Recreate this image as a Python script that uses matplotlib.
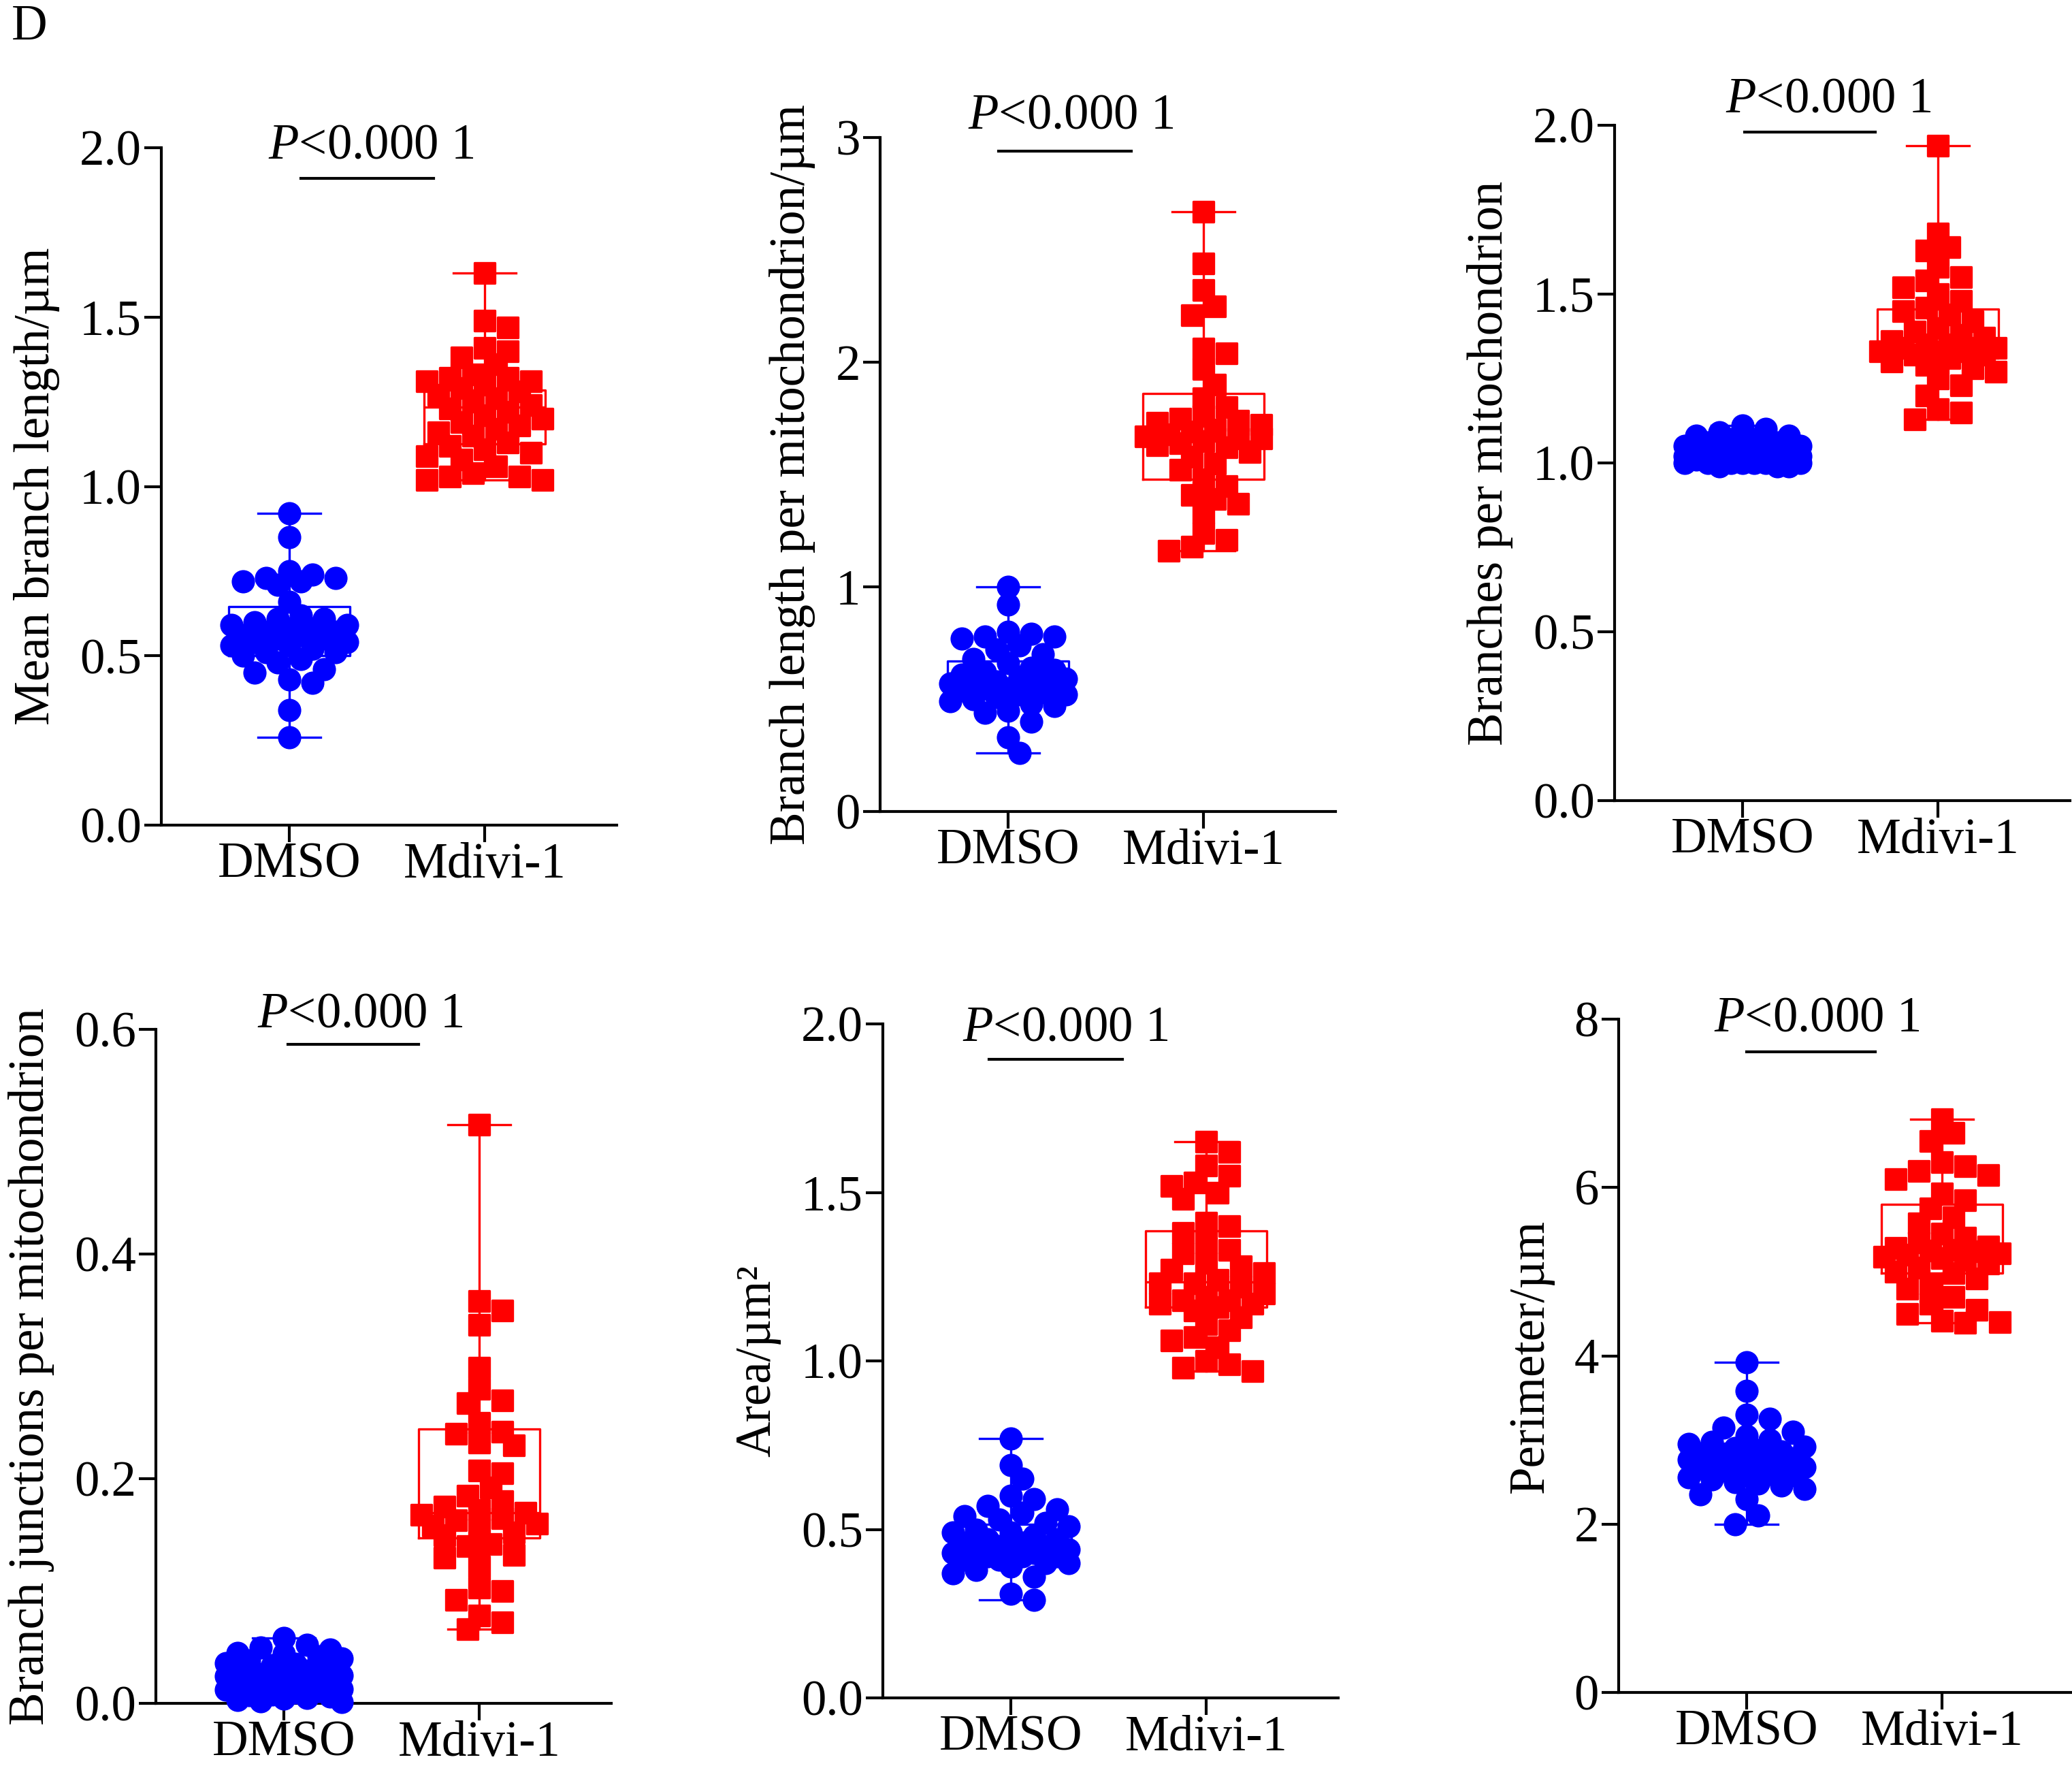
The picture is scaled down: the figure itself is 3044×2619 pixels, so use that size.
import matplotlib
matplotlib.use('Agg')
import matplotlib.pyplot as plt
from matplotlib.markers import MarkerStyle
from matplotlib import transforms
import numpy as np

plt.rcParams['font.family'] = ['Liberation Serif', 'DejaVu Serif']
plt.rcParams['mathtext.fontset'] = 'custom'
plt.rcParams['mathtext.rm'] = 'Liberation Serif'
plt.rcParams['mathtext.it'] = 'Liberation Serif:italic'

groups = ['DMSO', 'Mdivi-1']

# mean branch length
mbl_dmso = [0.92, 0.85, 0.75, 0.74, 0.73, 0.73, 0.72, 0.72, 0.71, 0.66, 0.62, 0.61, 0.61, 0.60,
            0.59, 0.59, 0.58, 0.58, 0.57, 0.57, 0.56, 0.56, 0.55, 0.55, 0.54, 0.54, 0.53, 0.53,
            0.52, 0.51, 0.51, 0.50, 0.49, 0.48, 0.46, 0.45, 0.43, 0.42, 0.34, 0.26]
mbl_mdivi = [1.63, 1.49, 1.47, 1.41, 1.40, 1.38, 1.36, 1.33, 1.32, 1.32, 1.31, 1.31, 1.30, 1.29,
             1.28, 1.27, 1.26, 1.25, 1.24, 1.23, 1.22, 1.21, 1.20, 1.19, 1.18, 1.17, 1.16, 1.15,
             1.13, 1.12, 1.11, 1.10, 1.09, 1.08, 1.06, 1.04, 1.03, 1.03, 1.02, 1.02]
mbl_box = [[0.50, 0.555, 0.645], [1.125, 1.235, 1.285]]   # q1, median, q3

# branch length per mitochondrion
blm_dmso = [1.00, 0.92, 0.80, 0.79, 0.78, 0.78, 0.77, 0.74, 0.72, 0.70, 0.68, 0.66, 0.64, 0.63,
            0.62, 0.61, 0.60, 0.60, 0.59, 0.58, 0.58, 0.57, 0.56, 0.56, 0.55, 0.55, 0.54, 0.53,
            0.52, 0.52, 0.51, 0.50, 0.49, 0.48, 0.47, 0.45, 0.44, 0.40, 0.33, 0.26]
blm_mdivi = [2.67, 2.44, 2.32, 2.25, 2.21, 2.06, 2.04, 1.97, 1.90, 1.84, 1.80, 1.76, 1.75, 1.74,
             1.73, 1.72, 1.70, 1.69, 1.68, 1.67, 1.66, 1.66, 1.65, 1.64, 1.63, 1.62, 1.60, 1.58,
             1.55, 1.52, 1.48, 1.45, 1.41, 1.39, 1.37, 1.33, 1.24, 1.21, 1.18, 1.16]
blm_box = [[0.51, 0.57, 0.67], [1.48, 1.65, 1.86]]

# branches per mitochondrion
bpm_dmso = [1.11, 1.10, 1.09, 1.08, 1.08, 1.07, 1.07, 1.06, 1.06, 1.05, 1.05, 1.05, 1.04, 1.04,
            1.04, 1.03, 1.03, 1.03, 1.03, 1.02, 1.02, 1.02, 1.02, 1.02, 1.01, 1.01, 1.01, 1.01,
            1.01, 1.00, 1.00, 1.00, 1.00, 1.00, 1.00, 0.99, 0.99, 0.99, 1.00, 1.01]
bpm_mdivi = [1.94, 1.68, 1.64, 1.63, 1.58, 1.55, 1.54, 1.52, 1.50, 1.48, 1.46, 1.45, 1.44, 1.42,
             1.40, 1.39, 1.38, 1.37, 1.36, 1.35, 1.35, 1.34, 1.34, 1.34, 1.33, 1.33, 1.33, 1.32,
             1.32, 1.31, 1.30, 1.29, 1.28, 1.27, 1.25, 1.23, 1.20, 1.16, 1.15, 1.13]
bpm_box = [[1.01, 1.025, 1.04], [1.31, 1.35, 1.455]]

# branch junctions per mitochondrion
bjm_dmso = [0.058, 0.052, 0.050, 0.048, 0.045, 0.044, 0.042, 0.040, 0.038, 0.036, 0.035, 0.034,
            0.032, 0.030, 0.029, 0.028, 0.026, 0.025, 0.024, 0.022, 0.021, 0.020, 0.019, 0.018,
            0.017, 0.016, 0.015, 0.014, 0.013, 0.012, 0.011, 0.010, 0.008, 0.007, 0.006, 0.005,
            0.004, 0.003, 0.002, 0.001]
bjm_mdivi = [0.515, 0.358, 0.350, 0.337, 0.299, 0.280, 0.270, 0.267, 0.250, 0.242, 0.240, 0.232,
             0.230, 0.207, 0.205, 0.192, 0.185, 0.180, 0.175, 0.172, 0.170, 0.168, 0.165, 0.163,
             0.160, 0.158, 0.155, 0.152, 0.150, 0.142, 0.140, 0.132, 0.130, 0.122, 0.103, 0.100,
             0.092, 0.078, 0.072, 0.066]
bjm_box = [[0.010, 0.020, 0.030], [0.147, 0.170, 0.244]]

# area
area_dmso = [0.77, 0.69, 0.65, 0.60, 0.59, 0.57, 0.56, 0.55, 0.54, 0.53, 0.52, 0.51, 0.50, 0.49,
             0.49, 0.48, 0.47, 0.47, 0.46, 0.46, 0.45, 0.45, 0.44, 0.44, 0.43, 0.43, 0.43, 0.42,
             0.42, 0.42, 0.41, 0.41, 0.40, 0.40, 0.39, 0.38, 0.37, 0.36, 0.31, 0.29]
area_mdivi = [1.65, 1.62, 1.58, 1.55, 1.53, 1.52, 1.50, 1.48, 1.41, 1.40, 1.38, 1.35, 1.33, 1.32,
              1.29, 1.28, 1.27, 1.26, 1.24, 1.23, 1.23, 1.22, 1.20, 1.19, 1.18, 1.18, 1.17, 1.17,
              1.16, 1.15, 1.13, 1.11, 1.09, 1.07, 1.06, 1.04, 1.00, 0.99, 0.98, 0.97]
area_box = [[0.42, 0.465, 0.515], [1.16, 1.235, 1.385]]

# perimeter
per_dmso = [3.92, 3.58, 3.30, 3.25, 3.15, 3.10, 3.05, 3.00, 2.98, 2.95, 2.92, 2.90, 2.88, 2.86,
            2.84, 2.82, 2.80, 2.79, 2.78, 2.77, 2.75, 2.74, 2.72, 2.70, 2.68, 2.66, 2.64, 2.62,
            2.60, 2.58, 2.56, 2.53, 2.50, 2.48, 2.46, 2.42, 2.35, 2.30, 2.10, 2.00]
per_mdivi = [6.81, 6.65, 6.55, 6.30, 6.25, 6.20, 6.15, 6.10, 5.93, 5.85, 5.75, 5.65, 5.57, 5.45,
             5.40, 5.35, 5.30, 5.28, 5.26, 5.25, 5.24, 5.22, 5.20, 5.18, 5.16, 5.14, 5.10, 5.05,
             5.00, 4.98, 4.92, 4.85, 4.80, 4.70, 4.62, 4.55, 4.50, 4.42, 4.40, 4.39]
per_box = [[2.62, 2.78, 2.96], [4.98, 5.25, 5.80]]

ylabels = ['Mean branch length/µm', 'Branch length per mitochondrion/µm',
           'Branches per mitochondrion', 'Branch junctions per mitochondrion',
           'Area/µm²', 'Perimeter/µm']
yticks = [[0.0, 0.5, 1.0, 1.5, 2.0], [0, 1, 2, 3], [0.0, 0.5, 1.0, 1.5, 2.0],
          [0.0, 0.2, 0.4, 0.6], [0.0, 0.5, 1.0, 1.5, 2.0], [0, 2, 4, 6, 8]]
ytick_fmt = ['%.1f', '%d', '%.1f', '%.1f', '%.1f', '%d']
p_text = r'$\it{P}$<0.000 1'

data = [(mbl_dmso, mbl_mdivi, mbl_box), (blm_dmso, blm_mdivi, blm_box),
        (bpm_dmso, bpm_mdivi, bpm_box), (bjm_dmso, bjm_mdivi, bjm_box),
        (area_dmso, area_mdivi, area_box), (per_dmso, per_mdivi, per_box)]

W, H = 3044, 2619
# axes rectangles in pixels: left, top, bottom (width is shared)
ax_px = [(237, 217, 1212), (1293, 202, 1192), (2372, 184, 1176),
         (229, 1512, 2502), (1297, 1504, 2494), (2378, 1497, 2486)]
ax_w = 669
# significance bar: x0, x1 (data), y (axes frac); text x (data), baseline (axes frac)
sig = [(1.06, 1.74, 0.955, 1.42, 0.984), (0.95, 1.63, 0.98, 1.32, 1.014),
       (1.01, 1.68, 0.99, 1.44, 1.02), (1.02, 1.69, 0.978, 1.39, 1.004),
       (0.89, 1.57, 0.947, 1.28, 0.975), (1.00, 1.66, 0.951, 1.36, 0.982)]

colors = ['#0000ff', '#ff0000']
markers = ['o', 's']
XMIN, XMAX = 0.345, 2.676
MS = 8.2
FS = 17.5


def swarm(vals, px_per_y, px_per_x, d):
    # simple beeswarm: offsets in data x units
    ys = np.asarray(vals) * px_per_y
    order = np.argsort(-ys)
    step = d * 0.5
    cand = [0]
    for k in range(1, 6):
        cand += [k * step, -k * step]
    xs = np.zeros(len(ys))
    placed = []
    for i in order:
        best, best_d = 0.0, -1
        for c in cand:
            if placed:
                pts = np.array(placed)
                md = np.min(np.hypot(pts[:, 0] - c, pts[:, 1] - ys[i]))
            else:
                md = 1e9
            if md >= 0.75 * d:
                best = c
                break
            if md > best_d:
                best, best_d = c, md
        xs[i] = best
        placed.append((best, ys[i]))
    return xs / px_per_x


fig = plt.figure(figsize=(W / 300, H / 300), dpi=300)

for k in range(6):
    left, top, bottom = ax_px[k]
    ax = fig.add_axes([left / W, 1 - bottom / H, ax_w / W, (bottom - top) / H])
    dmso, mdivi, box = data[k]
    ymax = yticks[k][-1]
    ax.set_xlim(XMIN, XMAX)
    ax.set_ylim(0, ymax)
    px_x = ax_w / (XMAX - XMIN)
    px_y = (bottom - top) / ymax

    for g, vals in enumerate([dmso, mdivi]):
        pos = g + 1
        q1, med, q3 = box[g]
        st = [dict(med=med, q1=q1, q3=q3, whislo=min(vals), whishi=max(vals), fliers=[])]
        lp = dict(color=colors[g], linewidth=0.8)
        ax.bxp(st, positions=[pos], widths=0.62, showfliers=False,
               boxprops=lp, medianprops=lp, whiskerprops=lp,
               capprops=dict(color=colors[g], linewidth=0.8), capwidths=0.32,
               manage_ticks=False, zorder=2)
        off = swarm(vals, px_y, px_x, 34)
        ax.plot(pos + off, vals, linestyle='none',
                marker=MarkerStyle(markers[g], joinstyle='round'),
                markersize=MS if g == 0 else 7.3, markeredgewidth=0.8 if g == 1 else 0,
                color=colors[g], clip_on=False, zorder=3)

    ax.spines['top'].set_visible(False)
    ax.spines['right'].set_visible(False)
    ax.spines['left'].set_linewidth(1.0)
    ax.spines['bottom'].set_linewidth(1.0)
    ax.set_xticks([1, 2])
    ax.set_xticklabels(groups, fontsize=FS)
    ax.set_yticks(yticks[k])
    ax.set_yticklabels([ytick_fmt[k] % t for t in yticks[k]], fontsize=FS)
    ax.tick_params(axis='both', direction='out', length=6, width=1.0, pad=1)
    ax.tick_params(axis='x', pad=0)
    ax.set_ylabel(ylabels[k], fontsize=FS, labelpad=7)

    x0, x1, yb, xt, yt = sig[k]
    tr = transforms.blended_transform_factory(ax.transData, ax.transAxes)
    ax.plot([x0, x1], [yb, yb], color='black', linewidth=1.0, transform=tr, clip_on=False)
    ax.text(xt, yt, p_text, transform=tr, ha='center', va='baseline', fontsize=FS)

fig.text(43 / W, 1 - 40 / H, 'D', fontsize=FS, ha='center', va='center')

fig.savefig('out.png', dpi=300)
